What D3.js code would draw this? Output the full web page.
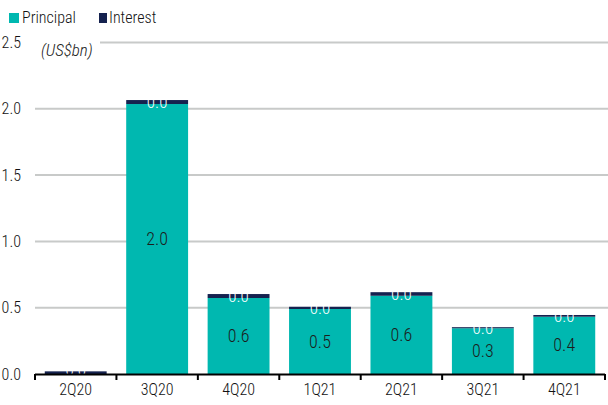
<!DOCTYPE html>
<html>
<head>
<meta charset="utf-8">
<script src="https://cdn.jsdelivr.net/npm/d3@7"></script>
<style>
  html, body { margin: 0; padding: 0; background: #fff; }
  svg { display: block; font-family: "Liberation Sans Narrow", "Arial Narrow", "Roboto Condensed", sans-serif; font-weight: 300; }
</style>
</head>
<body>
<svg id="chart" width="608" height="405"></svg>
<script>
const quarters = ['2Q20', '3Q20', '4Q20', '1Q21', '2Q21', '3Q21', '4Q21'];
const principal = [0.0, 2.036, 0.573, 0.49, 0.59, 0.345, 0.432];
const interest = [0.02, 0.03, 0.03, 0.017, 0.027, 0.008, 0.013];
const yTicks = [0, 0.5, 1.0, 1.5, 2.0, 2.5];
const seriesNames = ['Principal', 'Interest'];

const colors = { Principal: '#00b8b0', Interest: '#15224f' };
const svg = d3.select('#chart');

const rows = quarters.map((q, i) => ({ q, Principal: principal[i], Interest: interest[i] }));
const stacked = d3.stack().keys(seriesNames)(rows);

const x = d3.scaleBand()
  .domain(quarters)
  .range([35, 605])
  .paddingInner(0.24)
  .paddingOuter(0.12);

const y = d3.scaleLinear()
  .domain([0, 2.5])
  .range([374, 42.5]);

// gridlines
svg.append('g')
  .selectAll('line')
  .data(yTicks.filter(d => d > 0))
  .join('line')
  .attr('x1', 35)
  .attr('x2', 608)
  .attr('y1', d => y(d))
  .attr('y2', d => y(d))
  .attr('stroke', '#c8cac9')
  .attr('stroke-width', 2);

// unit label, white box hides the top gridline under it
svg.append('rect')
  .attr('x', 30).attr('y', 34).attr('width', 70).attr('height', 30)
  .attr('fill', '#fff');
svg.append('text')
  .attr('x', 41)
  .attr('y', 56)
  .attr('font-size', 17)
  .attr('font-style', 'italic')
  .attr('fill', '#222')
  .text('(US$bn)');

// y axis labels
const yAxis = svg.append('g')
  .attr('transform', 'translate(21,0)')
  .call(d3.axisLeft(y).tickValues(yTicks).tickSize(0).tickPadding(0).tickFormat(d3.format('.1f')))
  .attr('font-family', null)
  .attr('font-size', 16);
yAxis.select('.domain').remove();
yAxis.selectAll('text').attr('fill', '#111');

// bars
svg.append('g')
  .selectAll('g')
  .data(stacked)
  .join('g')
  .attr('fill', d => colors[d.key])
  .selectAll('rect')
  .data(d => d)
  .join('rect')
  .attr('x', d => x(d.data.q))
  .attr('width', x.bandwidth())
  .attr('y', d => y(d[1]))
  .attr('height', d => y(d[0]) - y(d[1]));

// value labels
const fmt = d3.format('.1f');
svg.append('g')
  .selectAll('text')
  .data(stacked[1])
  .join('text')
  .attr('x', d => x(d.data.q) + x.bandwidth() / 2)
  .attr('y', d => Math.min(y((d[0] + d[1]) / 2) + 6, 376))
  .attr('text-anchor', 'middle')
  .attr('font-size', 17)
  .attr('fill', '#fff')
  .text(d => fmt(d.data.Interest));

svg.append('g')
  .selectAll('text')
  .data(stacked[0].filter(d => d.data.Principal > 0.05))
  .join('text')
  .attr('x', d => x(d.data.q) + x.bandwidth() / 2)
  .attr('y', d => y((d[0] + d[1]) / 2) + 6)
  .attr('text-anchor', 'middle')
  .attr('font-size', 18)
  .attr('fill', '#1c1c1c')
  .text(d => fmt(d.data.Principal));

// x axis: line, ticks at band edges, labels
const step = x.step();
const edges = quarters.map(q => x(q) - step * x.paddingInner() / 2);
edges.push(x(quarters[quarters.length - 1]) + x.bandwidth() + step * x.paddingInner() / 2);

const xg = svg.append('g');
xg.append('line')
  .attr('x1', edges[0]).attr('x2', edges[edges.length - 1])
  .attr('y1', y(0) + 0.5).attr('y2', y(0) + 0.5)
  .attr('stroke', '#000').attr('stroke-width', 2);
xg.selectAll('.tick-mark')
  .data(edges)
  .join('line')
  .attr('class', 'tick-mark')
  .attr('x1', d => d).attr('x2', d => d)
  .attr('y1', y(0)).attr('y2', y(0) + 6)
  .attr('stroke', '#000').attr('stroke-width', 2);

const xAxis = svg.append('g')
  .attr('transform', `translate(0,${y(0)})`)
  .call(d3.axisBottom(x).tickSize(0).tickPadding(10))
  .attr('font-family', null)
  .attr('font-size', 16);
xAxis.select('.domain').remove();
xAxis.selectAll('text').attr('fill', '#111');

// legend
const legend = svg.append('g').attr('transform', 'translate(9,12)');
const legendX = [0, 90];
seriesNames.forEach((name, i) => {
  const item = legend.append('g').attr('transform', `translate(${legendX[i]},0)`);
  item.append('rect')
    .attr('width', i ? 8 : 10).attr('height', 10).attr('y', 1)
    .attr('fill', colors[name]);
  item.append('text')
    .attr('x', i ? 10 : 13).attr('y', 11)
    .attr('font-size', 16)
    .attr('fill', '#111')
    .text(name);
});
</script>
</body>
</html>
